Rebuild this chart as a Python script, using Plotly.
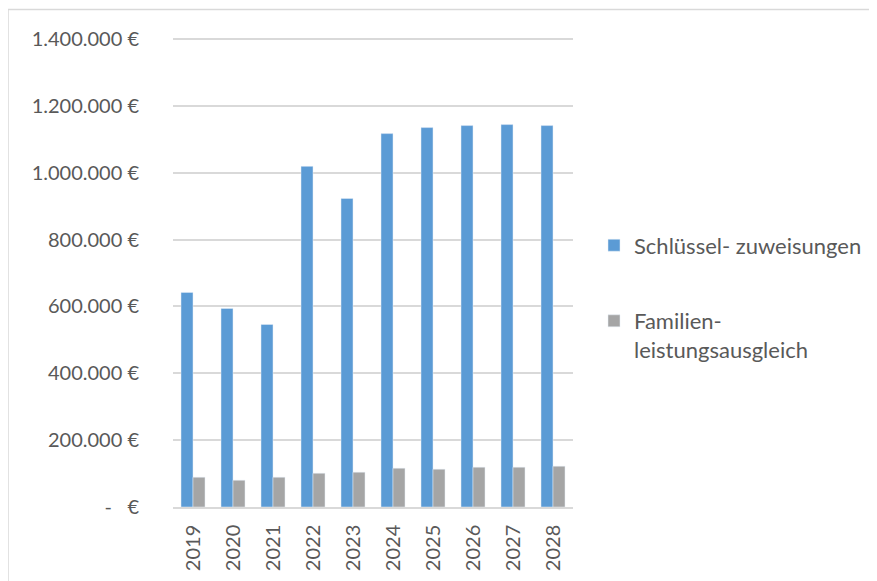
import plotly.graph_objects as go

years = ["2019", "2020", "2021", "2022", "2023", "2024", "2025", "2026", "2027", "2028"]
schluessel = [642000, 594000, 546000, 1019000, 923000, 1117000, 1135000, 1141000, 1144000, 1141000]
familien = [89000, 80000, 89000, 101000, 104000, 116000, 113000, 119000, 119000, 122000]
y_tickvals = [0, 200000, 400000, 600000, 800000, 1000000, 1200000, 1400000]
y_ticktext = ["-   €", "200.000 €", "400.000 €", "600.000 €", "800.000 €",
              "1.000.000 €", "1.200.000 €", "1.400.000 €"]
name_a = "Schlüssel- zuweisungen"
name_b = "Familien-<br>leistungsausgleich"

OFF = 8  # default page body margin
W, H = 877 - OFF, 581 - OFF
EXTRA = 4  # px of headroom above the top gridline so it is not clipped
T = 38.5 - OFF - EXTRA
L = 173 - OFF
plot_bottom = 506.7 - OFF
plot_right = 573 - OFF
B = H - plot_bottom
R = W - plot_right
pw, ph = W - L - R, H - T - B
ymax = 1400000 * (ph / (ph - EXTRA))

fig = go.Figure()
fig.add_trace(go.Bar(x=years, y=schluessel, name=name_a, marker_color="#5B9BD5",
                     legendgroup="a"))
fig.add_trace(go.Bar(x=years, y=familien, name=name_b, marker_color="#A5A5A5",
                     legendgroup="b"))

font_family = "Lato, Carlito, Calibri, sans-serif"
fig.update_layout(
    width=W, height=H,
    margin=dict(l=L, r=R, t=T, b=B, pad=0, autoexpand=False),
    paper_bgcolor="white", plot_bgcolor="white",
    barmode="group", bargap=0.4, bargroupgap=0,
    font=dict(family=font_family, size=20, color="#595959"),
    showlegend=True,
    legend=dict(x=(594 - OFF - L) / pw, xanchor="left",
                y=(plot_bottom - (224 - OFF)) / ph, yanchor="top",
                tracegroupgap=44, valign="top", font=dict(size=22, color="#595959"),
                itemwidth=30, bgcolor="rgba(0,0,0,0)"),
    xaxis=dict(type="category", tickangle=-90, showgrid=False, showline=True,
               linecolor="#D9D9D9", linewidth=1.5, ticks="", ticklabelstandoff=8,
               tickfont=dict(size=20, color="#595959")),
    yaxis=dict(range=[0, ymax], tickvals=y_tickvals, ticktext=y_ticktext,
               showgrid=True, gridcolor="#D9D9D9", gridwidth=1.5, zeroline=False,
               showline=False, ticks="", ticklabelstandoff=33,
               tickfont=dict(size=20, color="#595959")),
    shapes=[dict(type="rect", xref="paper", yref="paper",
                 x0=(0 - L) / pw, x1=(W + 5 - L) / pw,
                 y0=(plot_bottom - (H + 5)) / ph, y1=(plot_bottom - 1) / ph,
                 line=dict(color="#D9D9D9", width=1.5), fillcolor="rgba(0,0,0,0)")],
)

fig.write_html("out.html")
